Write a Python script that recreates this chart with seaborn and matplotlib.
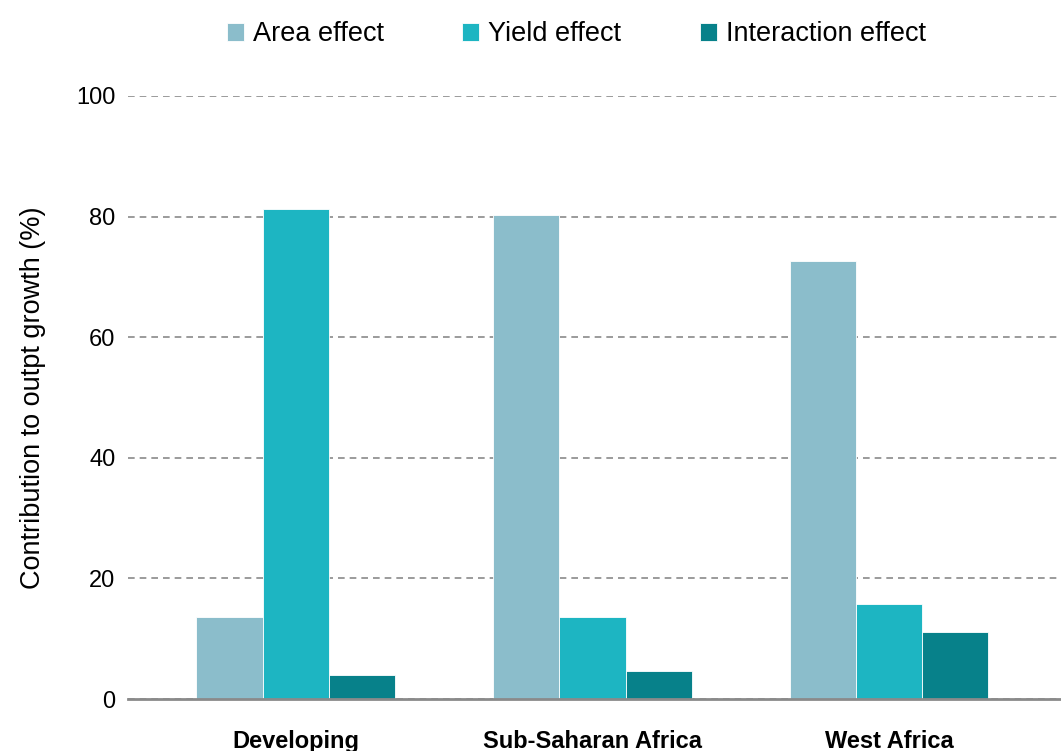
import matplotlib
matplotlib.use('Agg')
import matplotlib.pyplot as plt
import seaborn as sns
import pandas as pd

# values
regions = ['Developing', 'Sub-Saharan Africa', 'West Africa']
effects = ['Area effect', 'Yield effect', 'Interaction effect']
area_effect = [13.6, 80.2, 72.6]
yield_effect = [81.3, 13.6, 15.8]
interaction_effect = [4.0, 4.6, 11.1]
colors = ['#8BBDCB', '#1DB5C2', '#07818A']

sns.set_style('white')
plt.rcParams['font.family'] = ['Liberation Sans', 'DejaVu Sans']
plt.rcParams['text.color'] = 'black'
plt.rcParams['xtick.color'] = 'black'
plt.rcParams['ytick.color'] = 'black'
plt.rcParams['axes.labelcolor'] = 'black'

#long format for seaborn
rows = []
for eff, vals in zip(effects, [area_effect, yield_effect, interaction_effect]):
    for reg, v in zip(regions, vals):
        rows.append({'region': reg, 'effect': eff, 'value': v})
df = pd.DataFrame(rows)

fig = plt.figure(figsize=(10.61, 7.51), dpi=100)
ax = fig.add_axes([0.1206, 0.0692, 0.8794, 0.803])

sns.barplot(data=df, x='region', y='value', hue='effect', order=regions,
            hue_order=effects, palette=colors, saturation=1, width=0.67, ax=ax,
            edgecolor='white', linewidth=0.6, legend=True)

ax.set_xlim(-0.566, 2.58)
ax.set_ylim(0, 100)
ax.set_yticks([0, 20, 40, 60, 80, 100])
ax.yaxis.grid(True, linestyle=(0, (4, 3)), color='#8a8a8a', linewidth=1.2)
ax.set_axisbelow(True)
for s in ['left', 'right', 'top']:
    ax.spines[s].set_visible(False)
ax.spines['bottom'].set_color('#8a8a8a')
ax.spines['bottom'].set_linewidth(2)

ax.tick_params(axis='both', length=0, labelsize=17)
ax.tick_params(axis='y', pad=9)
ax.tick_params(axis='x', pad=22)
for lab in ax.get_xticklabels():
    lab.set_fontweight('bold')

ax.set_xlabel('')
ax.set_ylabel('Contribution to outpt growth (%)', fontsize=19.5, labelpad=22)

handles, labels = ax.get_legend_handles_labels()
ax.legend_.remove()
fig.legend(handles, labels, loc='upper center', bbox_to_anchor=(0.543, 1.004),
           ncol=3, frameon=False, fontsize=19.5, handlelength=0.63,
           handleheight=0.63, handletextpad=0.33, columnspacing=2.9)

fig.savefig('out.png', dpi=100)
